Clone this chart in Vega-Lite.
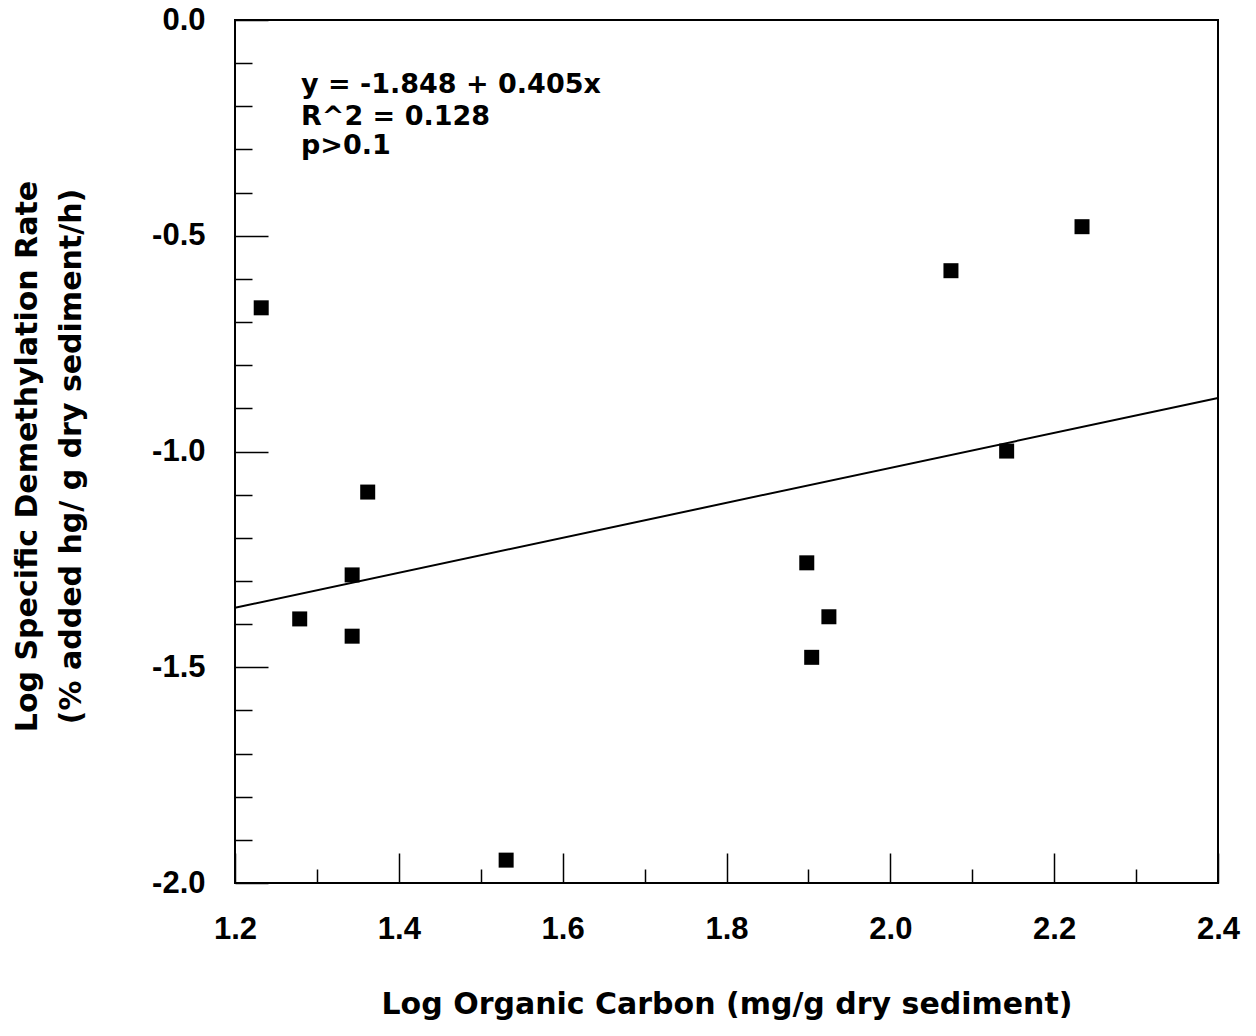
{
  "$schema": "https://vega.github.io/schema/vega-lite/v6.json",
  "width": 983,
  "height": 863,
  "autosize": {"type": "none"},
  "padding": {"left": 235, "top": 20, "right": 38, "bottom": 153},
  "background": "white",
  "config": {
    "view": {"stroke": "black", "strokeWidth": 2},
    "axis": {"domain": false, "grid": false, "tickColor": "black", "tickWidth": 1.5, "labelColor": "black", "titleColor": "black", "labelFlush": false, "labelOverlap": false, "labelBound": false}
  },
  "datasets": {
    "points": [
      {"logOC": 1.232, "logRate": -0.667},
      {"logOC": 1.279, "logRate": -1.388},
      {"logOC": 1.343, "logRate": -1.286},
      {"logOC": 1.343, "logRate": -1.428},
      {"logOC": 1.362, "logRate": -1.094},
      {"logOC": 1.531, "logRate": -1.947},
      {"logOC": 1.898, "logRate": -1.258},
      {"logOC": 1.904, "logRate": -1.477},
      {"logOC": 1.925, "logRate": -1.383},
      {"logOC": 2.074, "logRate": -0.581},
      {"logOC": 2.142, "logRate": -0.999},
      {"logOC": 2.234, "logRate": -0.479}
    ],
    "fit": [
      {"logOC": 1.2, "logRate": -1.362},
      {"logOC": 2.4, "logRate": -0.876}
    ],
    "notes": [
      {"logOC": 1.2806, "logRate": -0.1692, "label": "y = -1.848 + 0.405x"},
      {"logOC": 1.2806, "logRate": -0.2433, "label": "R^2 = 0.128"},
      {"logOC": 1.2806, "logRate": -0.3105, "label": "p>0.1"}
    ]
  },
  "encoding": {
    "x": {
      "field": "logOC",
      "type": "quantitative",
      "scale": {"domain": [1.2, 2.4], "nice": false, "zero": false},
      "axis": {
        "values": [1.2, 1.3, 1.4, 1.5, 1.6, 1.7, 1.8, 1.9, 2.0, 2.1, 2.2, 2.3, 2.4],
        "tickSize": {"condition": {"test": "abs(datum.value*5 - round(datum.value*5)) < 0.001", "value": -30}, "value": -14},
        "labelExpr": "abs(datum.value*5 - round(datum.value*5)) < 0.001 ? format(datum.value, '.1f') : ''",
        "labelPadding": 61,
        "labelFont": "Liberation Sans",
        "labelFontWeight": "bold",
        "labelFontSize": 31,
        "title": "Log Organic Carbon (mg/g dry sediment)",
        "titleFont": "DejaVu Sans",
        "titleFontWeight": "bold",
        "titleFontSize": 30,
        "titleBaseline": "alphabetic",
        "titleY": 130,
        "titleAnchor": "middle"
      }
    },
    "y": {
      "field": "logRate",
      "type": "quantitative",
      "scale": {"domain": [-2, 0], "nice": false, "zero": false},
      "axis": {
        "values": [0, -0.1, -0.2, -0.3, -0.4, -0.5, -0.6, -0.7, -0.8, -0.9, -1.0, -1.1, -1.2, -1.3, -1.4, -1.5, -1.6, -1.7, -1.8, -1.9, -2.0],
        "tickSize": {"condition": {"test": "abs(datum.value*2 - round(datum.value*2)) < 0.001", "value": -33}, "value": -17},
        "labelExpr": "abs(datum.value*2 - round(datum.value*2)) < 0.001 ? (datum.value < -0.001 ? '-' : '') + format(abs(datum.value), '.1f') : ''",
        "labelPadding": 63,
        "labelFont": "Liberation Sans",
        "labelFontWeight": "bold",
        "labelFontSize": 31,
        "title": ["Log Specific Demethylation Rate", "(% added hg/ g dry sediment/h)"],
        "titleFont": "DejaVu Sans",
        "titleFontWeight": "bold",
        "titleFontSize": 30,
        "titleAngle": -90,
        "titleBaseline": "alphabetic",
        "titleAlign": "center",
        "titleLineHeight": 44,
        "titleX": -199,
        "titleY": 436
      }
    }
  },
  "layer": [
    {
      "data": {"name": "fit"},
      "mark": {"type": "line", "color": "black", "strokeWidth": 2}
    },
    {
      "data": {"name": "points"},
      "mark": {"type": "point", "shape": "square", "filled": true, "color": "black", "opacity": 1, "size": 225}
    },
    {
      "data": {"name": "notes"},
      "mark": {"type": "text", "align": "left", "baseline": "alphabetic", "font": "DejaVu Sans", "fontWeight": "bold", "fontSize": 27, "color": "black"},
      "encoding": {"text": {"field": "label", "type": "nominal"}}
    }
  ]
}
